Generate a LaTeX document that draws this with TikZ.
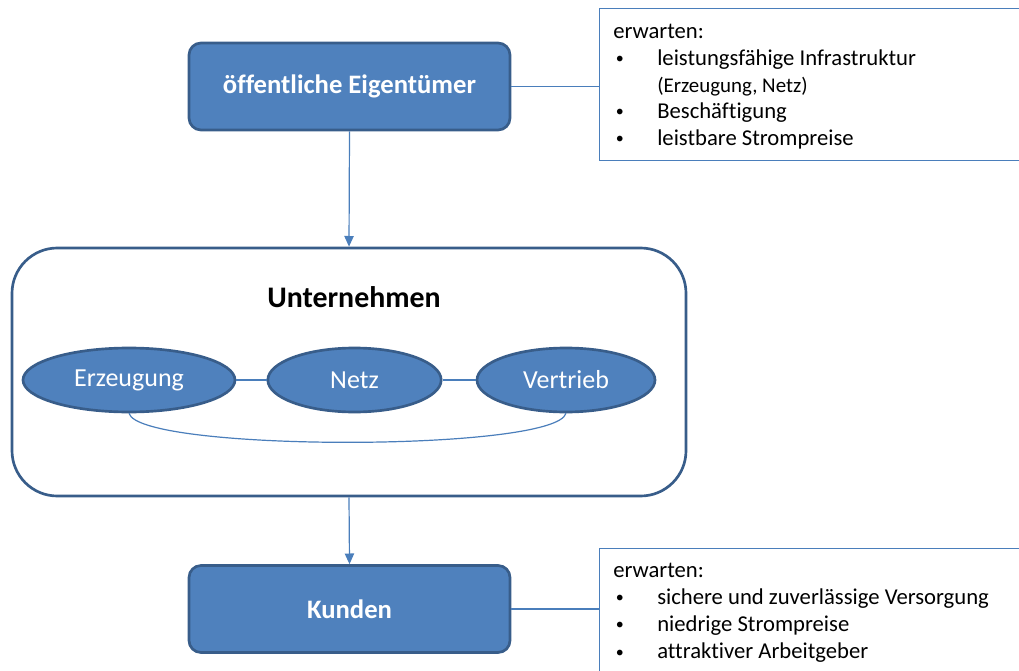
\documentclass[tikz,border=0pt]{standalone}
\usepackage{fontspec}
\setmainfont{Carlito}[Ligatures=NoCommon]
\usetikzlibrary{arrows.meta,shapes.geometric}
\definecolor{fillblue}{HTML}{4F81BD}
\definecolor{edgeblue}{HTML}{385D8A}
\definecolor{lineblue}{HTML}{4A7EBB}
\newcommand{\smallbul}{\hspace{2pt}\raisebox{1.2pt}{\fontsize{12}{12}\selectfont\textbullet}}
\begin{document}
\begin{tikzpicture}[x=0.75pt,y=-0.75pt,
  mainbox/.style={draw=edgeblue, line width=2pt, fill=fillblue, rounded corners=9pt,
    minimum width=240.75pt, minimum height=65.25pt, text=white,
    font=\fontsize{20}{24}\selectfont\bfseries, inner sep=0pt},
  part/.style={ellipse, draw=edgeblue, line width=2pt, fill=fillblue, minimum height=48pt,
    text=white, font=\fontsize{19.5}{23}\selectfont, inner sep=0pt},
  conn/.style={draw=lineblue, line width=0.9pt},
  arr/.style={conn, -{Triangle[width=7pt,length=8pt]}},
  notebox/.style={draw=lineblue, line width=0.9pt, anchor=north west, minimum width=400pt, inner sep=0pt},
  listtext/.style={anchor=base west, inner sep=0pt, align=left}
]
\useasboundingbox (0,0) rectangle (1019,670);

% top owner box and its note
\node[mainbox] (own) at (349.5,86.5) {öffentliche Eigentümer};
\node[notebox, minimum height=114pt] (r1) at (599,8) {};
\node[listtext, font=\fontsize{17}{19.9}\selectfont] (t1) at (613,39) {%
  \begin{tabular}[t]{@{}p{33pt}@{}l@{}}
  \multicolumn{2}{@{}l@{}}{erwarten:}\\
  \smallbul & leistungsfähige Infrastruktur\\
  & {\fontsize{15.7}{19.9}\selectfont (Erzeugung, Netz)}\\
  \smallbul & Beschäftigung\\
  \smallbul & leistbare Strompreise
  \end{tabular}};

% company box
\node[draw=edgeblue, line width=2pt, rounded corners=34pt, minimum width=505.5pt,
  minimum height=186pt, fill=white] (U) at (349,372) {};
\node[font=\fontsize{22.4}{26}\selectfont\bfseries, inner sep=0pt] (ut) at (354,297) {Unternehmen};
\node[part, minimum width=159pt] (E) at (129,380) {Erzeugung};
\node[part, minimum width=130pt] (N) at (354.5,380) {Netz};
\node[part, minimum width=133.5pt] (V) at (566,380) {Vertrieb};
\draw[conn] (E) -- (N);
\draw[conn] (N) -- (V);
\draw[conn] (E.south) .. controls (140,452) and (555,452) .. (V.south);

% customers
\node[mainbox] (K) at (349.5,609) {Kunden};
\node[notebox, minimum height=200pt] (r2) at (599,548) {};
\node[listtext, font=\fontsize{17}{20.4}\selectfont] (t2) at (613,577) {%
  \begin{tabular}[t]{@{}p{33pt}@{}l@{}}
  \multicolumn{2}{@{}l@{}}{erwarten:}\\
  \smallbul & sichere und zuverlässige Versorgung\\
  \smallbul & niedrige Strompreise\\
  \smallbul & attraktiver Arbeitgeber
  \end{tabular}};

% connectors
\draw[arr] (own.south) -- (U.north);
\draw[arr] (U.south) -- (K.north);
\draw[conn] (own.east) -- (own.east -| r1.west);
\draw[conn] (K.east) -- (K.east -| r2.west);
\end{tikzpicture}
\end{document}
